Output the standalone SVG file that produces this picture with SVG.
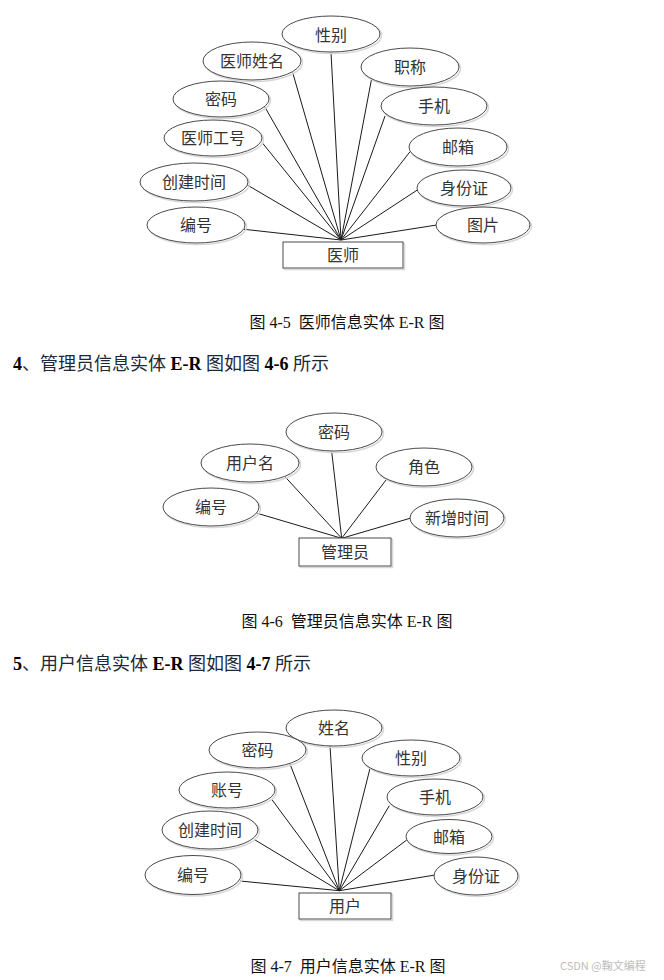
<svg xmlns="http://www.w3.org/2000/svg" width="664" height="980" viewBox="0 0 664 980">
<style>
.bg{fill:#ffffff}
.sh{fill:none;stroke:#d8d8d8;stroke-width:1.5}
.at{fill:#ffffff;stroke:#4a4a4a;stroke-width:1}
.en{fill:#ffffff;stroke:#4a4a4a;stroke-width:1}
.lb{font-family:"Noto Sans CJK SC","Noto Sans",sans-serif;font-size:16px;fill:#333333;text-anchor:middle}
.ln{stroke:#1a1a1a;stroke-width:1;fill:none}
.cap{font-family:"Liberation Serif","Noto Sans CJK SC",serif;font-size:16px;fill:#111111;text-anchor:middle;white-space:pre}
.hd{font-family:"Liberation Serif","Noto Sans CJK SC",serif;font-size:18px;fill:#1e2838}
.b{font-weight:bold;fill:#000000}
.wm{font-family:"Noto Sans CJK SC","Liberation Sans",sans-serif;font-size:11px;fill:#bdbdbd}
</style>
<rect class="bg" x="0" y="0" width="664" height="980"/>

<!-- Diagram 4-5 connectors -->
<g id="connectors-45">
<line class="ln" x1="341" y1="240" x2="331" y2="52.5"/>
<line class="ln" x1="341" y1="240" x2="292.7" y2="72.7"/>
<line class="ln" x1="341" y1="240" x2="371.7" y2="78.3"/>
<line class="ln" x1="341" y1="240" x2="265" y2="107.3"/>
<line class="ln" x1="341" y1="240" x2="385" y2="116"/>
<line class="ln" x1="341" y1="240" x2="262.7" y2="143.3"/>
<line class="ln" x1="341" y1="240" x2="410" y2="151.7"/>
<line class="ln" x1="341" y1="240" x2="247.3" y2="185"/>
<line class="ln" x1="341" y1="240" x2="417.3" y2="190"/>
<line class="ln" x1="341" y1="240" x2="244" y2="229.3"/>
<line class="ln" x1="341" y1="240" x2="436.7" y2="225"/>
</g>
<g id="d45-xingbie"><ellipse class="sh" cx="332.5" cy="35.5" rx="49" ry="18"/><ellipse class="at" cx="331" cy="34" rx="49" ry="18"/><text class="lb" x="331" y="41">性别</text></g>
<g id="d45-yishixingming"><ellipse class="sh" cx="253.5" cy="62.5" rx="49" ry="19"/><ellipse class="at" cx="252" cy="61" rx="49" ry="19"/><text class="lb" x="252" y="67">医师姓名</text></g>
<g id="d45-zhicheng"><ellipse class="sh" cx="411.5" cy="68.5" rx="49" ry="19"/><ellipse class="at" cx="410" cy="67" rx="49" ry="19"/><text class="lb" x="410" y="73">职称</text></g>
<g id="d45-mima"><ellipse class="sh" cx="222.5" cy="100.5" rx="48" ry="18"/><ellipse class="at" cx="221" cy="99" rx="48" ry="18"/><text class="lb" x="221" y="105">密码</text></g>
<g id="d45-shouji"><ellipse class="sh" cx="435.5" cy="107.5" rx="53" ry="19"/><ellipse class="at" cx="434" cy="106" rx="53" ry="19"/><text class="lb" x="434" y="112">手机</text></g>
<g id="d45-gonghao"><ellipse class="sh" cx="214.5" cy="139.5" rx="49" ry="18"/><ellipse class="at" cx="213" cy="138" rx="49" ry="18"/><text class="lb" x="213" y="144">医师工号</text></g>
<g id="d45-youxiang"><ellipse class="sh" cx="459.5" cy="148.5" rx="49" ry="19"/><ellipse class="at" cx="458" cy="147" rx="49" ry="19"/><text class="lb" x="458" y="153">邮箱</text></g>
<g id="d45-chuangjian"><ellipse class="sh" cx="195.5" cy="183.5" rx="54" ry="19"/><ellipse class="at" cx="194" cy="182" rx="54" ry="19"/><text class="lb" x="194" y="188">创建时间</text></g>
<g id="d45-shenfenzheng"><ellipse class="sh" cx="465.5" cy="189.5" rx="47" ry="18"/><ellipse class="at" cx="464" cy="188" rx="47" ry="18"/><text class="lb" x="464" y="194">身份证</text></g>
<g id="d45-bianhao"><ellipse class="sh" cx="197.5" cy="226.5" rx="49" ry="18"/><ellipse class="at" cx="196" cy="225" rx="49" ry="18"/><text class="lb" x="196" y="231">编号</text></g>
<g id="d45-tupian"><ellipse class="sh" cx="484.5" cy="226.5" rx="47" ry="18"/><ellipse class="at" cx="483" cy="225" rx="47" ry="18"/><text class="lb" x="483" y="231">图片</text></g>
<g id="d45-yishi"><rect class="sh" x="284.5" y="243.5" width="120" height="26"/><rect class="en" x="283" y="242" width="120" height="26"/><text class="lb" x="343" y="261">医师</text></g>

<text class="cap" x="347" y="328" xml:space="preserve">图 4-5  医师信息实体 E-R 图</text>

<text class="hd" x="13" y="370"><tspan class="b">4</tspan>、管理员信息实体 <tspan class="b">E-R</tspan> 图如图 <tspan class="b">4-6</tspan> 所示</text>

<!-- Diagram 4-6 -->
<g id="connectors-46">
<line class="ln" x1="341.7" y1="538.3" x2="331.7" y2="451.7"/>
<line class="ln" x1="341.7" y1="538.3" x2="285" y2="476.7"/>
<line class="ln" x1="341.7" y1="538.3" x2="386" y2="480"/>
<line class="ln" x1="341.7" y1="538.3" x2="257.3" y2="513.3"/>
<line class="ln" x1="341.7" y1="538.3" x2="410" y2="518.3"/>
</g>
<g id="d46-mima"><ellipse class="sh" cx="335.5" cy="433.5" rx="48" ry="19"/><ellipse class="at" cx="334" cy="432" rx="48" ry="19"/><text class="lb" x="334" y="438">密码</text></g>
<g id="d46-yonghuming"><ellipse class="sh" cx="251.5" cy="464.5" rx="49" ry="19"/><ellipse class="at" cx="250" cy="463" rx="49" ry="19"/><text class="lb" x="250" y="469">用户名</text></g>
<g id="d46-juese"><ellipse class="sh" cx="425.5" cy="468.5" rx="48" ry="19"/><ellipse class="at" cx="424" cy="467" rx="48" ry="19"/><text class="lb" x="424" y="473">角色</text></g>
<g id="d46-bianhao"><ellipse class="sh" cx="212.5" cy="508.5" rx="48" ry="19"/><ellipse class="at" cx="211" cy="507" rx="48" ry="19"/><text class="lb" x="211" y="513">编号</text></g>
<g id="d46-xinzeng"><ellipse class="sh" cx="458.5" cy="519.5" rx="47" ry="19"/><ellipse class="at" cx="457" cy="518" rx="47" ry="19"/><text class="lb" x="457" y="524">新增时间</text></g>
<g id="d46-guanliyuan"><rect class="sh" x="300.5" y="539.5" width="92" height="28"/><rect class="en" x="299" y="538" width="92" height="28"/><text class="lb" x="345" y="558">管理员</text></g>

<text class="cap" x="347" y="627" xml:space="preserve">图 4-6  管理员信息实体 E-R 图</text>

<text class="hd" x="13" y="670"><tspan class="b">5</tspan>、用户信息实体 <tspan class="b">E-R</tspan> 图如图 <tspan class="b">4-7</tspan> 所示</text>

<!-- Diagram 4-7 -->
<g id="connectors-47">
<line class="ln" x1="339.3" y1="890.7" x2="330" y2="746"/>
<line class="ln" x1="339.3" y1="890.7" x2="290" y2="764"/>
<line class="ln" x1="339.3" y1="890.7" x2="370" y2="768.3"/>
<line class="ln" x1="339.3" y1="890.7" x2="271.7" y2="799.3"/>
<line class="ln" x1="339.3" y1="890.7" x2="389.3" y2="805.7"/>
<line class="ln" x1="339.3" y1="890.7" x2="254" y2="839.3"/>
<line class="ln" x1="339.3" y1="890.7" x2="406.7" y2="840"/>
<line class="ln" x1="339.3" y1="890.7" x2="240" y2="881"/>
<line class="ln" x1="339.3" y1="890.7" x2="435" y2="875"/>
</g>
<g id="d47-xingming"><ellipse class="sh" cx="335.5" cy="729.5" rx="48" ry="18"/><ellipse class="at" cx="334" cy="728" rx="48" ry="18"/><text class="lb" x="334" y="734">姓名</text></g>
<g id="d47-mima"><ellipse class="sh" cx="259" cy="751.5" rx="48.5" ry="18"/><ellipse class="at" cx="257.5" cy="750" rx="48.5" ry="18"/><text class="lb" x="257.5" y="756">密码</text></g>
<g id="d47-xingbie"><ellipse class="sh" cx="412.5" cy="759.5" rx="49" ry="18"/><ellipse class="at" cx="411" cy="758" rx="49" ry="18"/><text class="lb" x="411" y="764">性别</text></g>
<g id="d47-zhanghao"><ellipse class="sh" cx="228.5" cy="791.5" rx="48" ry="18"/><ellipse class="at" cx="227" cy="790" rx="48" ry="18"/><text class="lb" x="227" y="796">账号</text></g>
<g id="d47-shouji"><ellipse class="sh" cx="436.5" cy="798.5" rx="48" ry="18"/><ellipse class="at" cx="435" cy="797" rx="48" ry="18"/><text class="lb" x="435" y="803">手机</text></g>
<g id="d47-chuangjian"><ellipse class="sh" cx="211.5" cy="831.5" rx="48" ry="19"/><ellipse class="at" cx="210" cy="830" rx="48" ry="19"/><text class="lb" x="210" y="836">创建时间</text></g>
<g id="d47-youxiang"><ellipse class="sh" cx="450.5" cy="838" rx="43" ry="17"/><ellipse class="at" cx="449" cy="836.5" rx="43" ry="17"/><text class="lb" x="449" y="842.5">邮箱</text></g>
<g id="d47-bianhao"><ellipse class="sh" cx="194.5" cy="876.5" rx="48" ry="19.5"/><ellipse class="at" cx="193" cy="875" rx="48" ry="19.5"/><text class="lb" x="193" y="881">编号</text></g>
<g id="d47-shenfenzheng"><ellipse class="sh" cx="477.5" cy="877.5" rx="42" ry="19"/><ellipse class="at" cx="476" cy="876" rx="42" ry="19"/><text class="lb" x="476" y="882">身份证</text></g>
<g id="d47-yonghu"><rect class="sh" x="300.5" y="894.5" width="92" height="26"/><rect class="en" x="299" y="893" width="92" height="26"/><text class="lb" x="345" y="912">用户</text></g>

<text class="cap" x="348" y="972" xml:space="preserve">图 4-7  用户信息实体 E-R 图</text>

<text class="wm" x="560" y="970">CSDN @鞠文编程</text>
</svg>
